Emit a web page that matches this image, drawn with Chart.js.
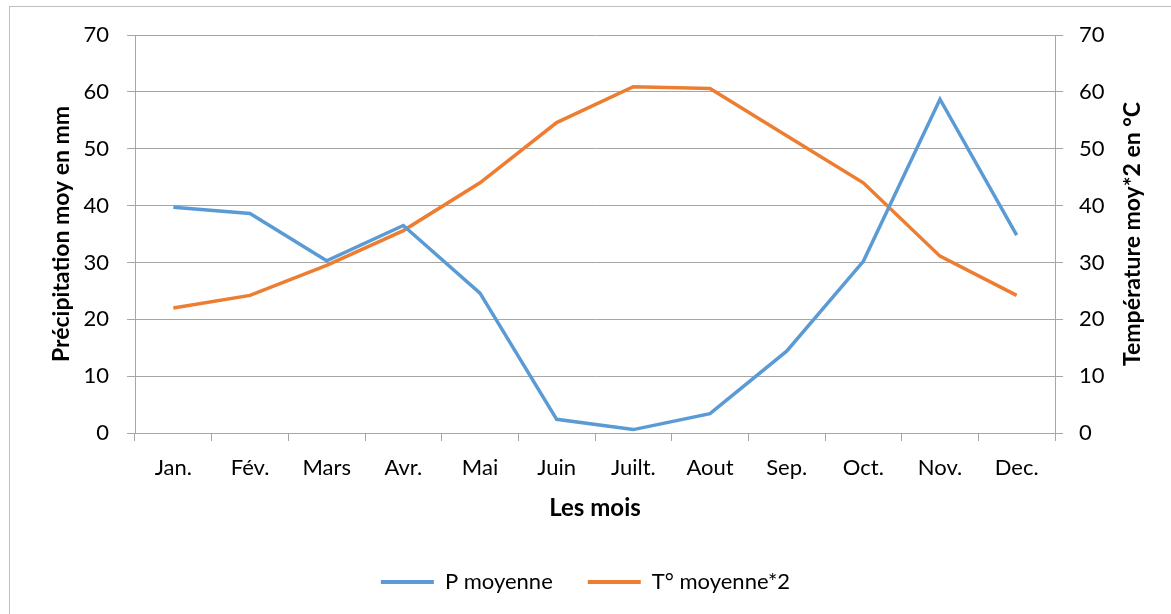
<!DOCTYPE html>
<html>
<head>
<meta charset="utf-8">
<script src="https://cdn.jsdelivr.net/npm/chart.js@4/dist/chart.umd.min.js"></script>
<style>
  html, body { margin: 0; padding: 0; background: #fff; }
  canvas { display: block; }
</style>
</head>
<body>
<canvas id="climat" width="1171" height="614"></canvas>
<script>
// données
const mois = ['Jan.', 'Fév.', 'Mars', 'Avr.', 'Mai', 'Juin', 'Juilt.', 'Aout', 'Sep.', 'Oct.', 'Nov.', 'Dec.'];
const precipitations = [39.7, 38.6, 30.3, 36.5, 24.6, 2.4, 0.6, 3.4, 14.4, 30.2, 58.7, 34.8];
const temperatures2 = [22.0, 24.2, 29.5, 35.6, 44.0, 54.6, 60.9, 60.6, 52.3, 44.0, 31.1, 24.2];
const graduations = [0, 10, 20, 30, 40, 50, 60, 70];

const bleu = '#5B9BD5';
const orange = '#ED7D31';
const gris = '#a6a6a6';
const police = 'Lato';

// cadre + titre de l'axe droit (lu de bas en haut comme dans Excel)
const cadrePlugin = {
    id: 'cadre',
    beforeDraw(chart) {
        const ctx = chart.ctx;
        ctx.save();
        ctx.fillStyle = '#fff';
        ctx.fillRect(0, 0, chart.width, chart.height);
        ctx.strokeStyle = '#bfbfbf';
        ctx.lineWidth = 1;
        ctx.strokeRect(9.5, 6.5, chart.width + 20, chart.height + 20);
        ctx.restore();
    },
    afterDraw(chart) {
        const ctx = chart.ctx;
        const area = chart.chartArea;
        ctx.save();
        ctx.translate(1133, (area.top + area.bottom) / 2);
        ctx.rotate(-Math.PI / 2);
        ctx.font = 'bold 23px ' + police;
        ctx.fillStyle = '#000';
        ctx.textAlign = 'center';
        ctx.textBaseline = 'middle';
        ctx.fillText('Température moy*2 en °C', 0, 0);
        ctx.restore();
    }
};

const axeY = (position) => ({
    position: position,
    min: 0,
    max: 70,
    afterBuildTicks: (axis) => { axis.ticks = graduations.map(v => ({ value: v })); },
    ticks: {
        color: '#000',
        font: { family: police, size: 22 },
        padding: position === 'left' ? 18 : 16
    },
    grid: {
        display: true,
        drawOnChartArea: position === 'left',
        color: gris,
        tickLength: 8
    },
    border: { display: true, color: gris },
    afterFit: (axis) => { axis.width = position === 'left' ? 135 : 116; }
});

const scales = {
    x: {
        offset: true,
        ticks: {
            color: '#000',
            font: { family: police, size: 22 },
            padding: 14,
            maxRotation: 0
        },
        grid: {
            offset: true,
            drawOnChartArea: false,
            color: gris,
            tickLength: 8
        },
        border: { display: true, color: gris },
        title: {
            display: true,
            text: 'Les mois',
            color: '#000',
            font: { family: police, size: 24, weight: 'bold' },
            padding: { top: 0, bottom: 13 }
        },
        afterFit: (axis) => { axis.height = 103; }
    },
    y: Object.assign(axeY('left'), {
        title: {
            display: true,
            text: 'Précipitation moy en mm',
            color: '#000',
            font: { family: police, size: 23, weight: 'bold' },
            padding: { top: 48, bottom: 0 }
        }
    }),
    y2: axeY('right')
};

new Chart(document.getElementById('climat'), {
    type: 'line',
    data: {
        labels: mois,
        datasets: [{
            label: 'P moyenne',
            data: precipitations,
            yAxisID: 'y',
            borderColor: bleu,
            backgroundColor: bleu,
            borderWidth: 3.5,
            pointRadius: 0,
            tension: 0
        }, {
            label: 'T° moyenne*2',
            data: temperatures2,
            yAxisID: 'y2',
            borderColor: orange,
            backgroundColor: orange,
            borderWidth: 3.5,
            pointRadius: 0,
            tension: 0
        }]
    },
    options: {
        responsive: false,
        animation: false,
        layout: { padding: { top: 35, left: 0, right: 0, bottom: 11 } },
        scales: scales,
        plugins: {
            tooltip: { enabled: false },
            legend: {
                position: 'bottom',
                labels: {
                    color: '#000',
                    font: { family: police, size: 22 },
                    boxWidth: 53,
                    boxHeight: 4,
                    padding: 35,
                    generateLabels: (chart) => Chart.defaults.plugins.legend.labels.generateLabels(chart)
                        .map(item => Object.assign(item, { lineWidth: 0 }))
                }
            }
        }
    },
    plugins: [cadrePlugin]
});
</script>
</body>
</html>
